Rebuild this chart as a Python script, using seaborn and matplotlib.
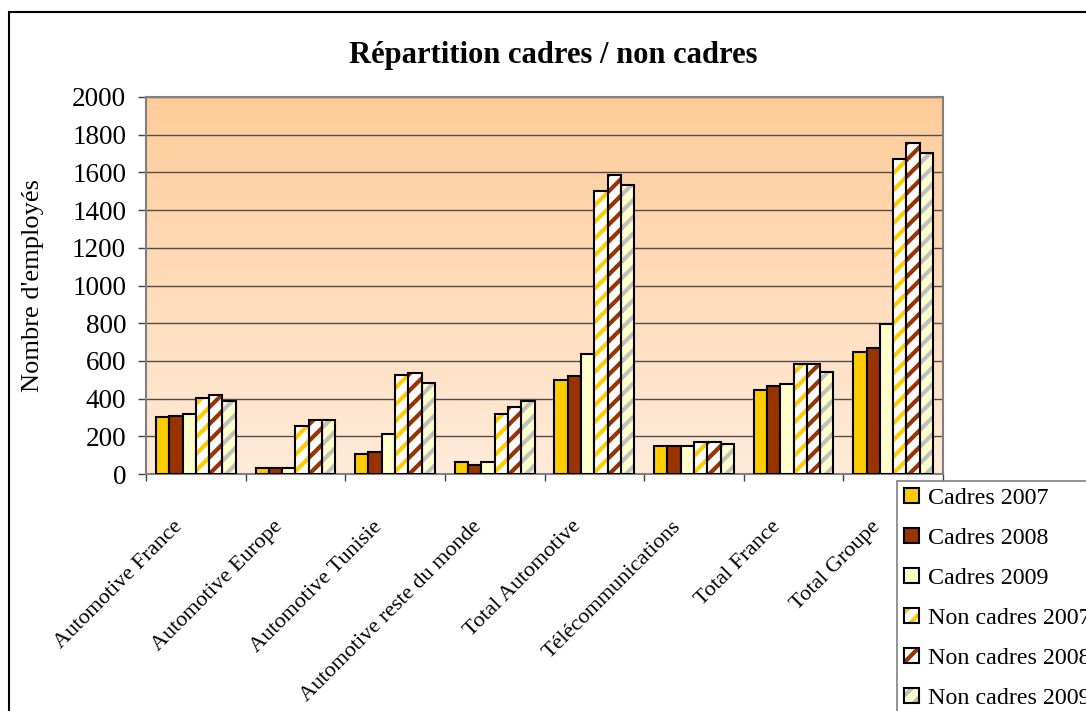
import numpy as np
import pandas as pd
import matplotlib
matplotlib.use("Agg")
import matplotlib.pyplot as plt
import seaborn as sns
from matplotlib.patches import Patch, Rectangle
from matplotlib.colors import LinearSegmentedColormap
from matplotlib.legend_handler import HandlerTuple
from matplotlib.transforms import ScaledTranslation

categories = ["Automotive France", "Automotive Europe", "Automotive Tunisie",
              "Automotive reste du monde", "Total Automotive", "Télécommunications",
              "Total France", "Total Groupe"]
series = ["Cadres 2007", "Cadres 2008", "Cadres 2009",
          "Non cadres 2007", "Non cadres 2008", "Non cadres 2009"]

cadres_2007 = [300, 30, 104, 62, 500, 147, 445, 648]
cadres_2008 = [310, 30, 118, 50, 520, 147, 467, 669]
cadres_2009 = [320, 30, 213, 62, 637, 147, 477, 797]
non_cadres_2007 = [405, 254, 527, 320, 1500, 168, 584, 1669]
non_cadres_2008 = [417, 288, 535, 353, 1588, 168, 584, 1756]
non_cadres_2009 = [385, 288, 482, 385, 1532, 158, 541, 1703]

fill_colors = ["#FFCC00", "#993300", "#FFFFCC", "#FFFFFF", "#FFFFFF", "#FFFFCC"]
stripe_colors = [None, None, None, "#FFCC00", "#993300", "#C0C0C0"]

values = [cadres_2007, cadres_2008, cadres_2009,
          non_cadres_2007, non_cadres_2008, non_cadres_2009]
df = pd.DataFrame([
    {"categorie": c, "serie": s, "valeur": v}
    for s, vals in zip(series, values)
    for c, v in zip(categories, vals)
])

sns.set_theme(style="white")
plt.rcParams["font.family"] = ["Liberation Serif", "DejaVu Serif"]
plt.rcParams["hatch.linewidth"] = 3.0
for key in ["text.color", "axes.labelcolor", "xtick.color", "ytick.color"]:
    plt.rcParams[key] = "black"

fig = plt.figure(figsize=(10.86, 7.11), dpi=100)
ax = fig.add_axes([146 / 1086, 1 - 474 / 711, (943 - 146) / 1086, 377 / 711])

# orange gradient background of the plot area
grad = LinearSegmentedColormap.from_list("bg", ["#FFEBDA", "#FFCC99"])
ax.imshow(np.linspace(0, 1, 256).reshape(-1, 1), cmap=grad, origin="lower",
          extent=[0, 1, 0, 1], transform=ax.transAxes, aspect="auto", zorder=-1)

sns.barplot(data=df, x="categorie", y="valeur", hue="serie", order=categories,
            hue_order=series, palette=fill_colors, saturation=1, width=0.8, gap=0,
            edgecolor="black", linewidth=1.5, legend=False, ax=ax, zorder=3)

# striped bars: hatch in colour, then a black outline on top
for cont, stripe in zip(ax.containers, stripe_colors):
    if stripe is None:
        continue
    for bar in cont:
        bar.set_hatch("//")
        bar.set_edgecolor(stripe)
        bar.set_linewidth(0)
        ax.add_patch(Rectangle((bar.get_x(), bar.get_y()), bar.get_width(), bar.get_height(),
                               fill=False, edgecolor="black", linewidth=1.5, zorder=4))

ax.set_xlim(-0.5, len(categories) - 0.5)
ax.set_ylim(0, 2000)
ax.set_yticks(range(0, 2001, 200))
ax.yaxis.grid(True, color="#4d4d4d", linewidth=1)
ax.set_axisbelow(True)

for s in ax.spines.values():
    s.set_color("#808080")
    s.set_linewidth(1.5)

ax.tick_params(axis="y", left=True, length=5.8, width=1, color="#404040",
               labelsize=19.5, pad=8.5, labelcolor="black")
ax.set_xticks(np.arange(-0.5, len(categories), 1), minor=True)
ax.tick_params(axis="x", which="minor", bottom=True, length=5, width=1, color="#404040")
ax.tick_params(axis="x", which="major", length=0, pad=36)
ax.set_xticks(range(len(categories)))
ax.set_xticklabels(categories, rotation=45, ha="right", va="center",
                   rotation_mode="anchor", fontsize=16)
offset = ScaledTranslation(-0.16, 0, fig.dpi_scale_trans)
for lab in ax.get_xticklabels():
    lab.set_transform(lab.get_transform() + offset)

ax.set_xlabel("")
ax.set_ylabel("Nombre d'employés", fontsize=19)
ax.yaxis.set_label_coords((44 - 146) / 797, 0.5)

fig.text(553 / 1086, 1 - 55 / 711, "Répartition cadres / non cadres",
         ha="center", va="center", fontsize=22, fontweight="bold")

handles = []
for fc, stripe in zip(fill_colors, stripe_colors):
    if stripe is None:
        handles.append(Patch(facecolor=fc, edgecolor="black", linewidth=1.5))
    else:
        handles.append((Patch(facecolor=fc, edgecolor=stripe, hatch="//", linewidth=0),
                        Patch(facecolor="none", edgecolor="black", linewidth=1.5)))
leg = fig.legend(handles, series, loc="upper left",
                 bbox_to_anchor=(897 / 1086, 1 - 481 / 711), fontsize=17.3,
                 handler_map={tuple: HandlerTuple(ndivide=1, pad=0)},
                 frameon=True, fancybox=False, edgecolor="#808080", framealpha=1,
                 borderpad=0.28, labelspacing=0.78, handlelength=0.62, handleheight=0.62,
                 handletextpad=0.4, borderaxespad=0)
leg.get_frame().set_linewidth(1.2)

# outer chart border
fig.add_artist(Rectangle((9 / 1086, -0.1), 1.2, 1 - 12 / 711 + 0.1,
                         transform=fig.transFigure, fill=False,
                         edgecolor="black", linewidth=1.5))

fig.savefig("out.png", dpi=100)
